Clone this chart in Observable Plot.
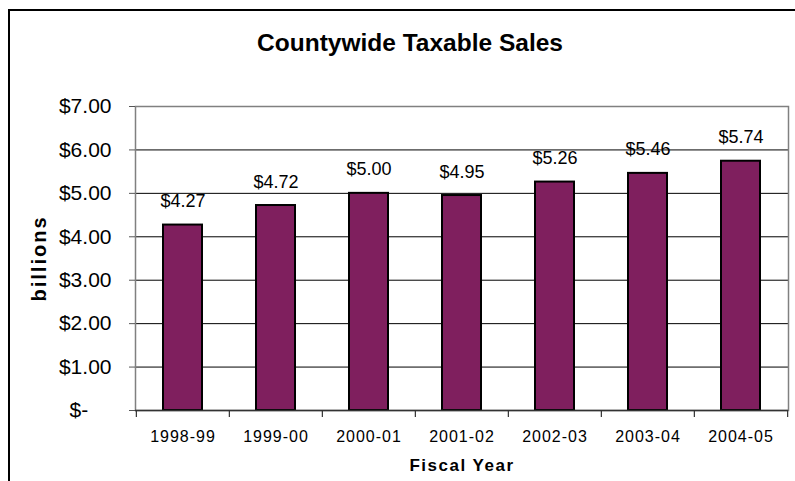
<!DOCTYPE html>
<html>
<head>
<meta charset="utf-8">
<script src="https://cdn.jsdelivr.net/npm/d3@7"></script>
<script src="https://cdn.jsdelivr.net/npm/@observablehq/plot@0.6"></script>
<style>
  html, body { margin: 0; padding: 0; background: #fff; }
  #wrap { position: relative; width: 795px; height: 481px; overflow: hidden; }
  #border { position: absolute; left: 8px; top: 9px; width: 800px; height: 500px;
            border-left: 2.5px solid #000; border-top: 2.5px solid #000; box-sizing: border-box; }
  svg { font-family: "Liberation Sans", Arial, sans-serif; }
  g[aria-label="x-axis tick label"] text { letter-spacing: 1px; }
  g[aria-label="x-axis label"] text { font-weight: bold; letter-spacing: 1.5px; font-size: 17px; }
  g[aria-label="y-axis label"] text { font-weight: bold; letter-spacing: 2px; font-size: 20px; }
</style>
</head>
<body>
<div id="wrap"><div id="border"></div></div>
<script>
const years = ["1998-99", "1999-00", "2000-01", "2001-02", "2002-03", "2003-04", "2004-05"];
const sales = [4.27, 4.72, 5.00, 4.95, 5.26, 5.46, 5.74];
const yTicks = [0, 1, 2, 3, 4, 5, 6, 7];
const title = "Countywide Taxable Sales";

const data = years.map((y, i) => ({year: y, value: sales[i]}));

const W = 795, H = 481, mL = 135, mR = 7, mT = 106, mB = 71;
const step = (W - mL - mR) / years.length;
const barColor = "#7f1f5e";

const chart = Plot.plot({
  width: W, height: H,
  marginLeft: mL, marginRight: mR, marginTop: mT, marginBottom: mB,
  style: {fontFamily: "'Liberation Sans', Arial, sans-serif", background: "transparent", overflow: "visible"},
  x: {type: "band", domain: years, padding: 0},
  y: {domain: [0, 7]},
  marks: [
    Plot.ruleY(yTicks.filter(d => d > 0 && d < 7), {stroke: "#000", strokeWidth: 1}),
    Plot.frame({stroke: "#808080", strokeWidth: 1.5}),
    Plot.barY(data, {x: "year", y: "value", fill: barColor, stroke: "#000", strokeWidth: 2, insetLeft: 27, insetRight: 27}),
    Plot.text(data, {x: "year", y: "value", text: d => "$" + d.value.toFixed(2), lineAnchor: "bottom", dy: -18, fontSize: 18, fill: "#000"}),
    Plot.ruleY([0], {stroke: "#333", strokeWidth: 1.5}),
    Plot.ruleX(years, {x: d => d, dx: -step / 2, y1: 0, y2: 0, stroke: "#333", strokeWidth: 1.2, insetTop: 0, insetBottom: -7}),
    Plot.ruleX(years.slice(-1), {x: d => d, dx: step / 2, y1: 0, y2: 0, stroke: "#333", strokeWidth: 1.2, insetBottom: -7}),
    Plot.axisX({tickSize: 0, tickPadding: 20, fontSize: 16, label: "Fiscal Year", labelAnchor: "center", labelOffset: 60, labelArrow: "none"}),
    Plot.axisY({ticks: yTicks, tickSize: 6, tickPadding: 18, fontSize: 21, stroke: "#555",
      tickFormat: d => d === 0 ? "$-\u2007\u2007" : "$" + d.toFixed(2),
      label: "billions", labelAnchor: "center", labelOffset: 104, labelArrow: "none"}),
    Plot.text([title], {frameAnchor: "top", dy: -73, fontSize: 24.5, fontWeight: "bold", dx: -52, fill: "#000"})
  ]
});
document.getElementById("wrap").appendChild(chart);
chart.style.position = "absolute";
chart.style.left = "0px";
chart.style.top = "0px";
</script>
</body>
</html>
